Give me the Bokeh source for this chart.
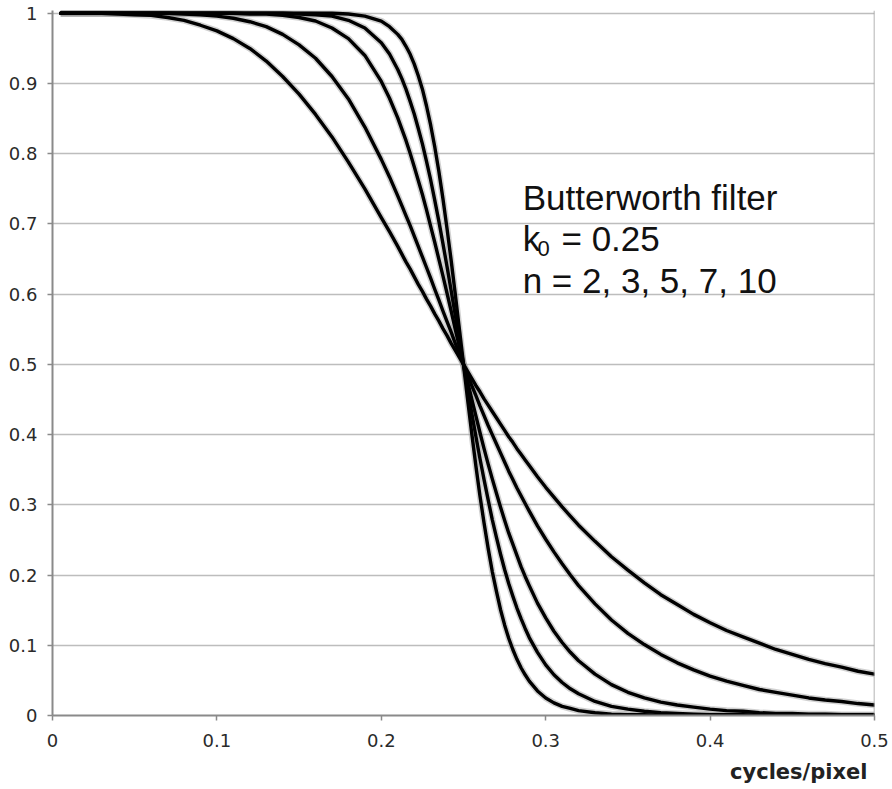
from bokeh.plotting import figure
from bokeh.models import Range1d, FixedTicker, Label, Span, ColumnDataSource, Title
from bokeh.embed import file_html
from bokeh.resources import INLINE

# spatial frequency (cycles/pixel)
freq = ([0.005, 0.01, 0.02, 0.03, 0.04, 0.05, 0.06, 0.07, 0.08, 0.09, 0.10]
        + [0.11, 0.12, 0.13, 0.14, 0.15, 0.16, 0.17, 0.18, 0.19, 0.20]
        + [0.205, 0.21, 0.2125, 0.215, 0.2175, 0.22, 0.2225, 0.225, 0.2275, 0.23,
           0.2325, 0.235, 0.2375, 0.24, 0.2425, 0.245, 0.2475]
        + [0.25, 0.2525, 0.255, 0.2575, 0.26, 0.2625, 0.265, 0.2675, 0.27, 0.2725,
           0.275, 0.2775, 0.28, 0.2825, 0.285, 0.2875, 0.29]
        + [0.295, 0.30, 0.305, 0.31, 0.315, 0.32]
        + [0.33, 0.34, 0.35, 0.36, 0.37, 0.38, 0.39, 0.40, 0.41, 0.42, 0.43, 0.44,
           0.45, 0.46, 0.47, 0.48, 0.49, 0.50])

n2 = ([1.000, 1.000, 1.000, 1.000, 0.999, 0.998, 0.997, 0.994, 0.990, 0.983, 0.975]
      + [0.964, 0.950, 0.932, 0.910, 0.885, 0.856, 0.824, 0.788, 0.750, 0.709]
      + [0.689, 0.668, 0.657, 0.646, 0.636, 0.625, 0.614, 0.604, 0.593, 0.583,
         0.572, 0.562, 0.551, 0.541, 0.530, 0.520, 0.510]
      + [0.500, 0.490, 0.480, 0.470, 0.461, 0.451, 0.442, 0.433, 0.424, 0.415,
         0.406, 0.397, 0.389, 0.380, 0.372, 0.364, 0.356]
      + [0.340, 0.325, 0.311, 0.297, 0.284, 0.271]
      + [0.248, 0.226, 0.207, 0.189, 0.172, 0.158, 0.144, 0.132, 0.121, 0.112,
         0.103, 0.094, 0.087, 0.080, 0.074, 0.069, 0.063, 0.059])
n3 = ([1.000, 1.000, 1.000, 1.000, 1.000, 1.000, 1.000, 1.000, 0.999, 0.998, 0.996]
      + [0.993, 0.988, 0.981, 0.970, 0.955, 0.936, 0.910, 0.878, 0.838, 0.792]
      + [0.767, 0.740, 0.726, 0.712, 0.698, 0.683, 0.668, 0.653, 0.638, 0.623,
         0.607, 0.592, 0.576, 0.561, 0.546, 0.530, 0.515]
      + [0.500, 0.485, 0.470, 0.456, 0.441, 0.427, 0.413, 0.400, 0.387, 0.374,
         0.361, 0.348, 0.336, 0.324, 0.313, 0.302, 0.291]
      + [0.270, 0.251, 0.233, 0.216, 0.200, 0.185]
      + [0.159, 0.136, 0.117, 0.101, 0.087, 0.075, 0.065, 0.056, 0.049, 0.043,
         0.037, 0.033, 0.029, 0.025, 0.022, 0.020, 0.017, 0.015])
n5 = ([1.000, 1.000, 1.000, 1.000, 1.000, 1.000, 1.000, 1.000, 1.000, 1.000, 1.000]
      + [1.000, 0.999, 0.999, 0.997, 0.994, 0.989, 0.979, 0.964, 0.940, 0.903]
      + [0.879, 0.851, 0.835, 0.819, 0.801, 0.782, 0.762, 0.742, 0.720, 0.697,
         0.674, 0.650, 0.626, 0.601, 0.576, 0.550, 0.525]
      + [0.500, 0.475, 0.451, 0.427, 0.403, 0.380, 0.358, 0.337, 0.317, 0.297,
         0.278, 0.260, 0.244, 0.228, 0.212, 0.198, 0.185]
      + [0.160, 0.139, 0.120, 0.104, 0.090, 0.078]
      + [0.059, 0.044, 0.033, 0.025, 0.019, 0.015, 0.012, 0.009, 0.007, 0.006,
         0.004, 0.003, 0.003, 0.002, 0.002, 0.001, 0.001, 0.001])
n7 = ([1.000, 1.000, 1.000, 1.000, 1.000, 1.000, 1.000, 1.000, 1.000, 1.000, 1.000]
      + [1.000, 1.000, 1.000, 1.000, 0.999, 0.998, 0.996, 0.990, 0.979, 0.958]
      + [0.942, 0.920, 0.907, 0.892, 0.875, 0.857, 0.836, 0.814, 0.789, 0.763,
         0.734, 0.704, 0.672, 0.639, 0.605, 0.570, 0.535]
      + [0.500, 0.465, 0.431, 0.398, 0.366, 0.336, 0.307, 0.279, 0.254, 0.230,
         0.208, 0.188, 0.170, 0.153, 0.138, 0.124, 0.111]
      + [0.090, 0.072, 0.058, 0.047, 0.038, 0.031]
      + [0.020, 0.013, 0.009, 0.006, 0.004, 0.003, 0.002, 0.001, 0.001, 0.001,
         0.000, 0.000, 0.000, 0.000, 0.000, 0.000, 0.000, 0.000])
n10 = ([1.000, 1.000, 1.000, 1.000, 1.000, 1.000, 1.000, 1.000, 1.000, 1.000, 1.000]
       + [1.000, 1.000, 1.000, 1.000, 1.000, 1.000, 1.000, 0.999, 0.996, 0.989]
       + [0.981, 0.970, 0.963, 0.953, 0.942, 0.928, 0.911, 0.892, 0.868, 0.841,
          0.810, 0.775, 0.736, 0.693, 0.648, 0.600, 0.550]
       + [0.500, 0.450, 0.402, 0.356, 0.313, 0.274, 0.238, 0.205, 0.177, 0.151,
          0.129, 0.110, 0.094, 0.080, 0.068, 0.058, 0.049]
       + [0.035, 0.025, 0.018, 0.013, 0.010, 0.007]
       + [0.004, 0.002, 0.001, 0.001, 0.000, 0.000, 0.000, 0.000, 0.000, 0.000,
          0.000, 0.000, 0.000, 0.000, 0.000, 0.000, 0.000, 0.000])

x_ticks = [0, 0.1, 0.2, 0.3, 0.4, 0.5]
x_tick_labels = ["0", "0.1", "0.2", "0.3", "0.4", "0.5"]
y_ticks = [0, 0.1, 0.2, 0.3, 0.4, 0.5, 0.6, 0.7, 0.8, 0.9, 1.0]
y_tick_labels = ["0", "0.1", "0.2", "0.3", "0.4", "0.5", "0.6", "0.7", "0.8", "0.9", "1"]

title_line1 = "Butterworth filter"
title_k = "k"
title_k_sub = "0"
title_k_rest = "= 0.25"
title_line3 = "n = 2, 3, 5, 7, 10"
x_title = "cycles/pixel"

p = figure(frame_width=822, frame_height=705, output_backend="svg",
           toolbar_location=None, x_range=Range1d(0, 0.5), y_range=Range1d(0, 1.004),
           min_border_left=52, min_border_right=18, min_border_top=10,
           min_border_bottom=70)
p.outline_line_color = None
p.background_fill_color = "white"
p.border_fill_color = "white"

p.xgrid.grid_line_color = None
p.ygrid.grid_line_color = "#bdbdbd"
p.ygrid.grid_line_width = 1.5
p.ygrid.ticker = FixedTicker(ticks=y_ticks)

for ax, ticks, labels in ((p.xaxis[0], x_ticks, x_tick_labels), (p.yaxis[0], y_ticks, y_tick_labels)):
    ax.ticker = FixedTicker(ticks=ticks)
    ax.major_label_overrides = {t: l for t, l in zip(ticks, labels)}
    ax.axis_line_color = "#8a8a8a"
    ax.axis_line_width = 2
    ax.major_tick_line_color = "#8a8a8a"
    ax.major_tick_line_width = 1.5
    ax.major_tick_in = 0
    ax.major_tick_out = 5
    ax.minor_tick_line_color = None
    ax.major_label_text_font = "DejaVu Sans"
    ax.major_label_text_font_size = "18px"
    ax.major_label_text_color = "#2a2a2a"

p.xaxis.major_label_standoff = 13
p.yaxis.major_label_standoff = 10

p.add_layout(Span(location=0.5, dimension="height", line_color="#9a9a9a", line_width=1.5))

src = ColumnDataSource(dict(x=freq, n2=n2, n3=n3, n5=n5, n7=n7, n10=n10))
for key in ("n2", "n3", "n5", "n7", "n10"):
    p.line("x", key, source=src, line_color="#9a9a9a", line_width=6.5, line_alpha=0.45)
for key in ("n2", "n3", "n5", "n7", "n10"):
    p.line("x", key, source=src, line_color="black", line_width=3.4,
           line_join="round", line_cap="round")

font = "Liberation Sans"
common = dict(text_font=font, text_color="#111111", text_baseline="alphabetic")
p.add_layout(Label(x=0.286, y=0.7377, text=title_line1, text_font_size="35px", **common))
p.add_layout(Label(x=0.286, y=0.6793, text=title_k, text_font_size="35px", **common))
p.add_layout(Label(x=0.2950, y=0.665, text=title_k_sub, text_font_size="22px", **common))
p.add_layout(Label(x=0.3096, y=0.6793, text=title_k_rest, text_font_size="35px", **common))
p.add_layout(Label(x=0.286, y=0.6195, text=title_line3, text_font_size="35px", **common))

p.add_layout(Title(text=x_title, align="right", offset=7, standoff=16,
                   text_font="DejaVu Sans", text_font_style="bold",
                   text_font_size="21px", text_color="#222222"), "below")

open("out.html", "w").write(file_html(p, INLINE))
